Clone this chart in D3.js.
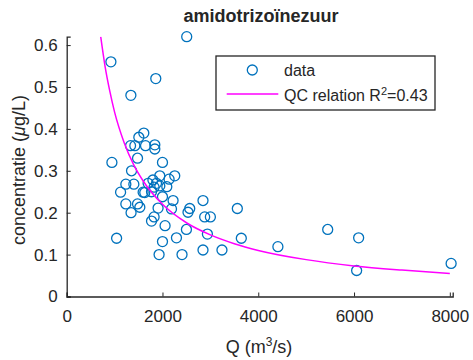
<!DOCTYPE html>
<html>
<head>
<meta charset="utf-8">
<script src="https://cdn.jsdelivr.net/npm/d3@7"></script>
<style>
  body { margin: 0; background: #fff; }
  svg text { font-family: "Liberation Sans", Arial, sans-serif; fill: #262626; }
</style>
</head>
<body>
<script>
// scatter data: Q (m3/s) and concentration (µg/L)
const flowQ = [2506, 923, 1860, 1340, 1610, 1506, 1333, 1423, 1646, 1840, 1840, 1479, 944, 2000,
  1354, 2256, 1944, 2138, 1235, 1402, 1700, 1875, 1944, 1825, 1125, 1596, 1771, 2000, 2221,
  1235, 1479, 1527, 1908, 1344, 2188, 2533, 2569, 2846, 3563, 1771, 1825, 2881, 3000, 2054,
  2500, 2938, 3646, 1042, 2000, 2292, 2846, 3242, 1929, 2408, 4410, 5450, 6096, 6054, 8027,
  1800, 2090, 1630];
const concentration = [0.62, 0.56, 0.52, 0.48, 0.39, 0.38, 0.36, 0.36, 0.36, 0.362, 0.352, 0.33, 0.32, 0.32,
  0.30, 0.288, 0.288, 0.28, 0.268, 0.268, 0.27, 0.27, 0.264, 0.261, 0.249, 0.249, 0.25, 0.238, 0.229,
  0.221, 0.221, 0.213, 0.211, 0.20, 0.209, 0.201, 0.21, 0.229, 0.21, 0.18, 0.19, 0.19, 0.19, 0.169,
  0.16, 0.149, 0.139, 0.139, 0.131, 0.14, 0.111, 0.111, 0.10, 0.10, 0.119, 0.16, 0.14, 0.062, 0.079,
  0.278, 0.262, 0.248];

// QC relation curve
const curveQ = [710, 800, 900, 1000, 1200, 1400, 1600, 2000, 2500, 3000, 3500, 4000, 5000, 6000, 7000, 8000];
const curveC = [0.62, 0.55, 0.49, 0.44, 0.367, 0.314, 0.275, 0.22, 0.176, 0.147, 0.126, 0.11, 0.088, 0.073, 0.063, 0.055];

const xTicks = [0, 2000, 4000, 6000, 8000];
const yTicks = [0, 0.1, 0.2, 0.3, 0.4, 0.5, 0.6];

const width = 473, height = 360;
const svg = d3.select("body").append("svg").attr("width", width).attr("height", height);

const x = d3.scaleLinear().domain([0, 8060]).range([66.7, 452.7]);
const y = d3.scaleLinear().domain([0, 0.62]).range([296.5, 36.7]);

const axisColor = "#262626";

// axes (MATLAB style, ticks inward, no box)
let gx = svg.append("g").attr("transform", `translate(0,${y(0)})`)
  .call(d3.axisBottom(x).tickValues(xTicks).tickSize(-4).tickPadding(9).tickFormat(d3.format("d")));
let gy = svg.append("g").attr("transform", `translate(${x(0)},0)`)
  .call(d3.axisLeft(y).tickValues(yTicks).tickSize(-4).tickPadding(9).tickFormat(d => d === 0 ? "0" : d3.format(".1f")(d)));
[gx, gy].forEach(g => {
  g.select(".domain").attr("stroke", axisColor).attr("stroke-width", 1.3);
  g.selectAll(".tick line").attr("stroke", axisColor).attr("stroke-width", 1);
  g.selectAll(".tick text").style("font-size", "17px").attr("fill", axisColor)
    .style("font-family", '"Liberation Sans", Arial, sans-serif');
});
gx.selectAll(".tick text").attr("dy", "0.95em");

// clip
svg.append("clipPath").attr("id", "clip").append("rect")
  .attr("x", x(0)).attr("y", y(0.62)).attr("width", x(8060) - x(0)).attr("height", y(0) - y(0.62));

// scatter
const pts = flowQ.map((q, i) => ({q: q, c: concentration[i]}));
svg.append("g").selectAll("circle").data(pts).enter().append("circle")
  .attr("cx", d => x(d.q)).attr("cy", d => y(d.c)).attr("r", 5)
  .attr("fill", "none").attr("stroke", "#0072BD").attr("stroke-width", 1.3);

// fitted curve
const line = d3.line().x(d => x(d[0])).y(d => y(d[1])).curve(d3.curveMonotoneX);
svg.append("path").datum(curveQ.map((q, i) => [q, curveC[i]]))
  .attr("clip-path", "url(#clip)")
  .attr("d", line).attr("fill", "none").attr("stroke", "#FF00FF").attr("stroke-width", 1.5);

// title
svg.append("text").attr("x", 261).attr("y", 22).attr("text-anchor", "middle")
  .style("font-size", "18px").style("font-weight", "bold").attr("fill", "#000")
  .text("amidotrizoïnezuur");

// axis labels
const xl = svg.append("text").attr("x", 259).attr("y", 353).attr("text-anchor", "middle")
  .style("font-size", "18px");
xl.append("tspan").text("Q (m");
xl.append("tspan").attr("dy", -7).style("font-size", "12px").text("3");
xl.append("tspan").attr("dy", 7).text("/s)");

const yl = svg.append("text").attr("transform", "translate(25,170) rotate(-90)")
  .attr("text-anchor", "middle").style("font-size", "18px");
yl.append("tspan").text("concentratie (");
yl.append("tspan").style("font-style", "italic").text("μ");
yl.append("tspan").text("g/L)");

// legend
const lg = svg.append("g");
lg.append("rect").attr("x", 216).attr("y", 56).attr("width", 219).attr("height", 54)
  .attr("fill", "#fff").attr("stroke", axisColor).attr("stroke-width", 1.3);
lg.append("circle").attr("cx", 252.3).attr("cy", 70).attr("r", 5)
  .attr("fill", "none").attr("stroke", "#0072BD").attr("stroke-width", 1.3);
lg.append("text").attr("x", 284).attr("y", 76).style("font-size", "16px").text("data");
lg.append("line").attr("x1", 226.7).attr("x2", 278.3).attr("y1", 94).attr("y2", 94)
  .attr("stroke", "#FF00FF").attr("stroke-width", 1.5);
const lt = lg.append("text").attr("x", 284).attr("y", 101).style("font-size", "16px");
lt.append("tspan").text("QC relation R");
lt.append("tspan").attr("dy", -6).style("font-size", "11px").text("2");
lt.append("tspan").attr("dy", 6).text("=0.43");
</script>
</body>
</html>
